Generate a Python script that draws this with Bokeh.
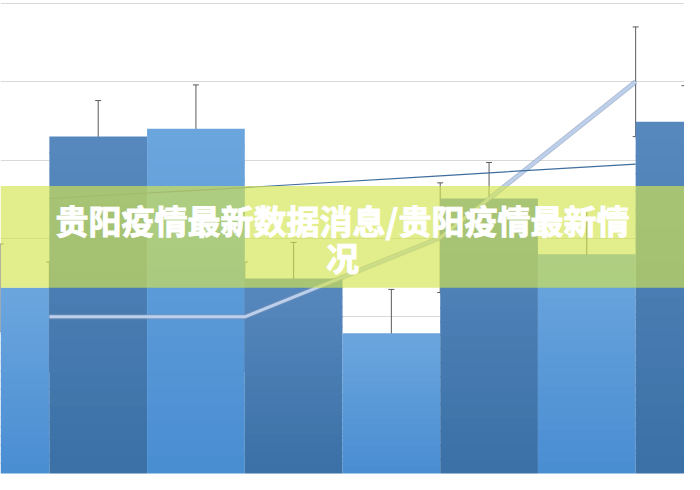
from bokeh.plotting import figure
from bokeh.models import ColumnDataSource, Whisker, TeeHead, BoxAnnotation, Label, FixedTicker, Range1d
from bokeh.embed import file_html
from bokeh.resources import INLINE

# ---- data ----
bar_x = [0, 1, 2, 3, 4, 5, 6, 7]
bar_values = [2.37, 4.30, 4.40, 2.49, 1.79, 3.51, 2.80, 4.49]
bar_err = [0.56, 0.46, 0.56, 0.46, 0.56, 0.46, 0.56, 0.46]
bar_kind = ["light", "dark", "light", "dark", "light", "dark", "light", "dark"]

line_x = [0.5, 2.5, 4.5, 6.5]
line_values = [2.0, 2.0, 3.01, 5.0]
line_err = [0.70, 0.70, 0.70, 0.70]

trend_values = [3.51, 3.65, 3.80, 3.95]

grid_ticks = [1, 2, 3, 4, 5, 6]
title_lines = ["贵阳疫情最新数据消息/贵阳疫情最新情", "况"]

# gradient endpoints (top, bottom) per bar kind
grad = {"light": ((108, 166, 222), (73, 141, 210)),
        "dark": ((88, 137, 190), (58, 112, 166))}
N_BANDS = 20
OVERLAP = 0.015


def mix(c1, c2, t):
    return "#%02x%02x%02x" % tuple(int(round(a + (b - a) * t)) for a, b in zip(c1, c2))


# ---- figure ----
p = figure(width=684, height=474, output_backend="svg", toolbar_location=None,
           x_range=Range1d(0, 7), y_range=Range1d(-0.012, 6.037),
           min_border=0, background_fill_color="white", border_fill_color="white")
p.outline_line_color = None
p.xaxis.visible = False
p.yaxis.visible = False
p.xgrid.visible = False
p.yaxis.ticker = FixedTicker(ticks=grid_ticks)
p.ygrid.grid_line_color = "#d9d9d9"
p.ygrid.grid_line_width = 1

# bars with vertical gradient, built as overlapping bands of each bar's own height
bx, bb, bt, bc = [], [], [], []
for x, v, k in zip(bar_x, bar_values, bar_kind):
    top_c, bot_c = grad[k]
    for j in range(N_BANDS):
        bx.append(x)
        bb.append(v * j / N_BANDS)
        bt.append(min(v, v * (j + 1) / N_BANDS + OVERLAP))
        bc.append(mix(bot_c, top_c, (j + 0.5) / N_BANDS))
p.vbar(x=bx, bottom=bb, top=bt, width=1.0, fill_color=bc, line_color=None)

bars = ColumnDataSource(dict(x=bar_x,
                             upper=[v + e for v, e in zip(bar_values, bar_err)],
                             lower=[v - e for v, e in zip(bar_values, bar_err)]))

lines = ColumnDataSource(dict(x=line_x, y=line_values,
                              upper=[v + e for v, e in zip(line_values, line_err)],
                              lower=[v - e for v, e in zip(line_values, line_err)]))
p.line(x="x", y="y", source=lines, line_color="#7f95b8", line_width=5, line_alpha=0.6)
p.line(x="x", y="y", source=lines, line_color="#bcd0ec", line_width=3)
p.line(x=line_x, y=trend_values, line_color="#3f6e9e", line_width=1.2)

for src in (bars, lines):
    w = Whisker(base="x", upper="upper", lower="lower", source=src,
                line_color="#5a5a5a", line_width=1,
                upper_head=TeeHead(size=6, line_color="#5a5a5a", line_width=1),
                lower_head=TeeHead(size=6, line_color="#5a5a5a", line_width=1))
    p.add_layout(w)

banner = BoxAnnotation(bottom=2.37, top=3.67, fill_color="#d3e350", fill_alpha=0.66, line_color=None)
p.add_layout(banner)

for txt, yv in zip(title_lines, [3.23, 2.76]):
    p.add_layout(Label(x=3.5, y=yv, text=txt, text_align="center", text_baseline="middle",
                       text_color="white", text_font="Noto Sans CJK SC", text_font_style="bold",
                       text_font_size="33px", text_outline_color="white"))

open("out.html", "w").write(file_html(p, INLINE))
